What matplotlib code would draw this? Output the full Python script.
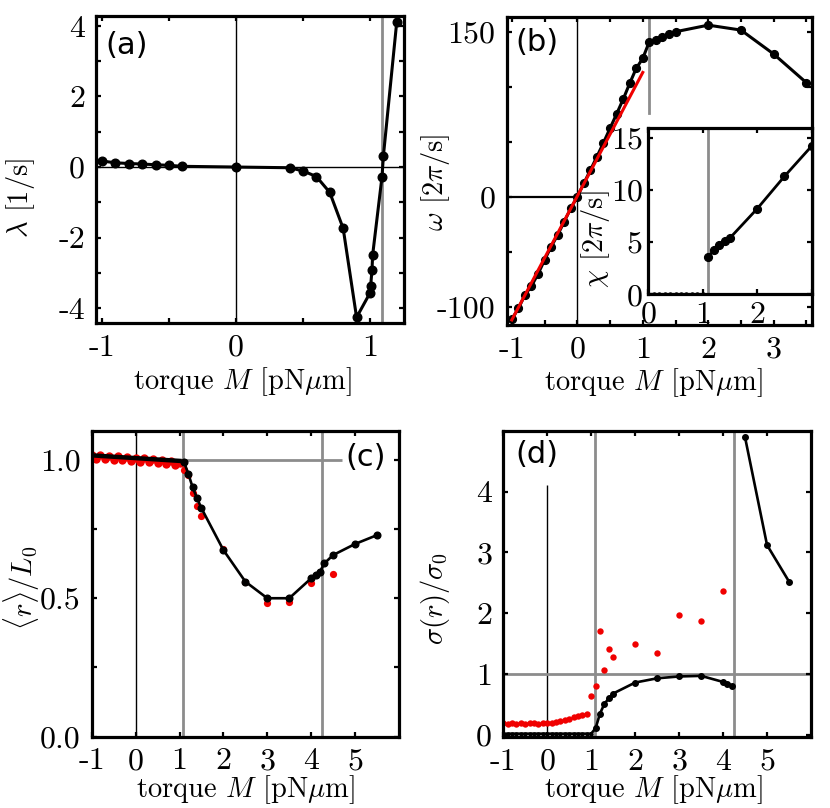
import numpy as np
import matplotlib
matplotlib.use('Agg')
import matplotlib.pyplot as plt

plt.rcParams['font.family'] = 'cmr10'
plt.rcParams['mathtext.fontset'] = 'cm'
plt.rcParams['axes.unicode_minus'] = False

# ---- panel (a): growth rate lambda vs torque
M_a = [-1.0, -0.9, -0.8, -0.7, -0.6, -0.5, -0.4, 0.0, 0.4, 0.5, 0.6, 0.7,
       0.8, 0.9, 1.0, 1.005, 1.015, 1.02, 1.09, 1.1, 1.2]
lam_a = [0.17, 0.12, 0.10, 0.085, 0.065, 0.048, 0.02, 0.0, -0.02, -0.11,
         -0.27, -0.72, -1.74, -4.26, -3.57, -3.37, -2.92, -2.49, -0.27,
         0.31, 4.12]

# ---- panel (b): rotation frequency omega vs torque
M_b = [-1.0, -0.9, -0.8, -0.7, -0.6, -0.5, -0.4, -0.3, -0.2, -0.1, 0.0,
       0.1, 0.2, 0.3, 0.4, 0.5, 0.6, 0.7, 0.8, 0.9, 1.0,
       1.1, 1.2, 1.3, 1.4, 1.5, 2.0, 2.5, 3.0, 3.5]
om_b = [-111.5, -101.5, -89.4, -81.2, -70.3, -57.5, -45.5, -34.8, -22.7,
        -10.6, 0.0, 12.1, 24.2, 36.4, 49.1, 62.2, 75.2, 88.5, 103.0, 116.7,
        125.8, 140.9, 142.5, 144.9, 147.6, 150.0, 156.0, 151.5, 129.7, 103.6]
fit_M = [-1.0, 1.0]
fit_om = [-112.0, 113.0]

# inset: chi vs torque
M_in_flat = [0.0, 0.1, 0.2, 0.3, 0.4, 0.5, 0.6, 0.7, 0.8, 0.9, 1.0]
chi_in_flat = [0.0, 0.0, 0.0, 0.0, 0.0, 0.0, 0.0, 0.0, 0.0, 0.0, 0.0]
M_in = [1.1, 1.2, 1.3, 1.4, 1.5, 2.0, 2.5, 3.0]
chi_in = [3.6, 4.2, 4.7, 5.1, 5.4, 8.2, 11.3, 14.2]

# ---- panel (c): mean end-to-end distance
M_c_flat = [-1.0, -0.9, -0.8, -0.7, -0.6, -0.5, -0.4, -0.3, -0.2, -0.1, 0.0,
            0.1, 0.2, 0.3, 0.4, 0.5, 0.6, 0.7, 0.8, 0.9, 1.0]
r_c_flat = [1.016, 1.015, 1.014, 1.013, 1.012, 1.011, 1.010, 1.009, 1.008,
            1.007, 1.006, 1.005, 1.004, 1.003, 1.002, 1.001, 1.000, 0.999,
            0.998, 0.997, 0.996]
M_c = [1.1, 1.2, 1.3, 1.4, 1.5, 2.0, 2.5, 3.0, 3.5, 4.0, 4.1, 4.2, 4.3,
       4.5, 5.0, 5.5]
r_c = [0.993, 0.95, 0.900, 0.861, 0.825, 0.674, 0.560, 0.50, 0.50, 0.572,
       0.584, 0.596, 0.626, 0.656, 0.696, 0.728]
r_c_red_flat = [1.019, 1.004, 1.017, 1.002, 1.015, 1.000, 1.013, 0.998,
                1.011, 0.996, 1.008, 0.993, 1.006, 0.991, 1.003, 0.988,
                1.000, 0.985, 0.997, 0.982, 0.990]
M_c_red = [1.1, 1.2, 1.3, 1.4, 1.5, 2.0, 2.5, 3.0, 3.5, 4.0, 4.5]
r_c_red = [0.963, 0.945, 0.879, 0.833, 0.797, 0.677, 0.56, 0.484, 0.487,
           0.554, 0.587]

# ---- panel (d): width of distribution
M_d_flat = [-1.0, -0.9, -0.8, -0.7, -0.6, -0.5, -0.4, -0.3, -0.2, -0.1, 0.0,
            0.1, 0.2, 0.3, 0.4, 0.5, 0.6, 0.7, 0.8, 0.9, 1.0]
s_d_flat = [0.02, 0.02, 0.02, 0.02, 0.02, 0.02, 0.02, 0.02, 0.02, 0.02, 0.02,
            0.02, 0.02, 0.02, 0.02, 0.02, 0.02, 0.02, 0.02, 0.02, 0.02]
M_d = [1.1, 1.2, 1.3, 1.4, 1.5, 2.0, 2.5, 3.0, 3.5, 4.0, 4.1, 4.2]
s_d = [0.11, 0.35, 0.51, 0.60, 0.68, 0.86, 0.93, 0.96, 0.97, 0.87, 0.84, 0.81]
M_d_up = [4.5, 5.0, 5.5]
s_d_up = [4.89, 3.12, 2.52]
M_d_red = [-1.0, -0.9, -0.8, -0.7, -0.6, -0.5, -0.4, -0.3, -0.2, -0.1, 0.0,
           0.1, 0.2, 0.3, 0.4, 0.5, 0.6, 0.7, 0.8, 0.9, 1.0,
           1.1, 1.2, 1.3, 1.4, 1.5, 2.0, 2.5, 3.0, 3.5, 4.0]
s_d_red = [0.19, 0.18, 0.19, 0.18, 0.19, 0.18, 0.19, 0.19, 0.18, 0.19, 0.19,
           0.20, 0.21, 0.22, 0.24, 0.26, 0.29, 0.31, 0.33, 0.35, 0.64,
           0.80, 1.70, 1.07, 1.41, 1.28, 1.49, 1.34, 1.97, 1.87, 2.37]

M_crit = 1.08
M_crit2 = 4.25

GRAY = '#8c8c8c'
RED = '#f00000'
TICK_FS = 23
LAB_FS = 20.5
PANEL_FS = 22

fig = plt.figure(figsize=(8.3, 8.08), dpi=100)
W, H = 830.0, 808.0


def make_axes(left, top, right, bottom):
    return fig.add_axes([left / W, 1 - bottom / H, (right - left) / W,
                         (bottom - top) / H])


def style(ax, pad=8):
    for s in ax.spines.values():
        s.set_linewidth(2.3)
    ax.tick_params(direction='in', top=True, right=True, length=3.5,
                   width=1.6, labelsize=TICK_FS, pad=pad)


xlab = r'torque $M$ [pN$\mu$m]'

# ---------------- (a)
axa = make_axes(96, 16, 404, 323)
axa.axhline(0, color='k', lw=1.0, zorder=1)
axa.axvline(0, color='k', lw=1.0, zorder=1)
axa.axvline(1.087, color=GRAY, lw=2.0, zorder=1)
axa.plot(M_a, lam_a, '-o', color='k', lw=2.2, ms=6.2, zorder=3)
axa.set_xlim(-1.045, 1.254)
axa.set_ylim(-4.42, 4.28)
axa.set_xticks([-1, -0.5, 0, 0.5, 1])
axa.set_xticklabels(['-1', '', '0', '', '1'])
axa.set_yticks([-4, -3, -2, -1, 0, 1, 2, 3, 4])
axa.set_yticklabels(['-4', '', '-2', '', '0', '', '2', '', '4'])
style(axa)
axa.set_xlabel(xlab, fontsize=LAB_FS)
axa.set_ylabel(r'$\lambda$ [1/s]', fontsize=LAB_FS)
axa.xaxis.set_label_coords(0.474, -0.137)
axa.yaxis.set_label_coords(-0.19, 0.407)
axa.text(0.03, 0.95, '(a)', transform=axa.transAxes, family='DejaVu Sans',
         fontsize=PANEL_FS, va='top')

# ---------------- (b)
axb = make_axes(506.7, 17, 811.7, 325)
xb0, xb1 = -1.078, 3.58
yb0, yb1 = -116.6, 163.4
axb.axvline(0, color='k', lw=1.0, zorder=1)
axb.axhline(0, xmin=0, xmax=(0 - xb0) / (xb1 - xb0), color='k', lw=1.6,
            zorder=1)
axb.axvline(1.1, ymin=(76 - yb0) / (yb1 - yb0), ymax=1, color=GRAY, lw=2.0,
            zorder=1)
axb.plot(M_b, om_b, '-o', color='k', lw=2.2, ms=5.6, zorder=3)
axb.plot(fit_M, fit_om, '-', color=RED, lw=2.2, zorder=4)
axb.set_xlim(xb0, xb1)
axb.set_ylim(yb0, yb1)
axb.set_xticks([-1, -0.5, 0, 0.5, 1, 1.5, 2, 2.5, 3, 3.5])
axb.set_xticklabels(['-1', '', '0', '', '1', '', '2', '', '3', ''])
axb.set_yticks([-100, -50, 0, 50, 100, 150])
axb.set_yticklabels(['-100', '', '0', '', '', '150'])
style(axb)
axb.set_xlabel(xlab, fontsize=LAB_FS)
axb.set_ylabel(r'$\omega$ [2$\pi$/s]', fontsize=LAB_FS)
axb.xaxis.set_label_coords(0.48, -0.135)
axb.yaxis.set_label_coords(-0.179, 0.464)
axb.text(0.027, 0.965, '(b)', transform=axb.transAxes, family='DejaVu Sans',
         fontsize=PANEL_FS, va='top')

# inset
axi = make_axes(648.3, 128.3, 811.7, 294.3)
axi.set_facecolor('white')
axi.axvline(1.1, color=GRAY, lw=2.0, zorder=1)
axi.plot(M_in_flat, chi_in_flat, '-o', color='k', lw=1.5, ms=2.2, zorder=3)
axi.plot(M_in, chi_in, '-o', color='k', lw=2.0, ms=5.6, zorder=3)
axi.set_xlim(0, 3)
axi.set_ylim(0, 15.9)
axi.set_xticks([0, 1, 2, 3])
axi.set_xticklabels(['0', '1', '2', ''])
axi.set_yticks([0, 5, 10, 15])
axi.set_yticklabels(['0', '5', '10', '15'])
style(axi)
axi.tick_params(axis='y', pad=4)
axi.tick_params(axis='x', pad=5)
axi.set_ylabel(r'$\chi$ [2$\pi$/s]', fontsize=LAB_FS)
axi.yaxis.set_label_coords(-0.225, 0.33)

# ---------------- (c)
axc = make_axes(91.7, 430.7, 399, 736.7)
axc.axvline(0, color='k', lw=1.0, zorder=1)
axc.axvline(M_crit, color=GRAY, lw=2.0, zorder=1)
axc.axvline(M_crit2, color=GRAY, lw=2.0, zorder=1)
axc.hlines(1.0, M_crit, 4.7, color=GRAY, lw=2.0, zorder=1)
axc.plot(M_c_flat, r_c_red_flat, 'o', color=RED, ms=6.0, mec='none', zorder=2)
axc.plot(M_c_red, r_c_red, 'o', color=RED, ms=5.2, mec='none', zorder=2)
axc.plot(M_c_flat + M_c, r_c_flat + r_c, '-', color='k', lw=1.9, zorder=3)
axc.plot(M_c_flat, r_c_flat, '-', color='k', lw=3.2, zorder=3)
axc.plot(M_c, r_c, 'o', color='k', ms=4.8, zorder=3)
axc.set_xlim(-1, 6)
axc.set_ylim(0, 1.105)
axc.set_xticks([-1, 0, 1, 2, 3, 4, 5])
axc.set_xticklabels(['-1', '0', '1', '2', '3', '4', '5'])
axc.set_yticks([0, 0.25, 0.5, 0.75, 1.0])
axc.set_yticklabels(['0.0', '', '0.5', '', '1.0'])
style(axc)
axc.set_xlabel(xlab, fontsize=LAB_FS)
axc.set_ylabel(r'$\langle r\rangle/L_0$', fontsize=LAB_FS)
axc.xaxis.set_label_coords(0.499, -0.118)
axc.yaxis.set_label_coords(-0.163, 0.486)
axc.text(0.824, 0.96, '(c)', transform=axc.transAxes, family='DejaVu Sans',
         fontsize=PANEL_FS, va='top')

# ---------------- (d)
axd = make_axes(503.3, 430.7, 811, 737.3)
yd0, yd1 = -0.04, 5.0
axd.vlines(0, yd0, 4.1, color='k', lw=1.0, zorder=1)
axd.axhline(1.0, color=GRAY, lw=2.0, zorder=1)
axd.axvline(M_crit, color=GRAY, lw=2.0, zorder=1)
axd.axvline(M_crit2, color=GRAY, lw=2.0, zorder=1)
axd.plot(M_d_red, s_d_red, 'o', color=RED, ms=4.6, mec='none', zorder=2)
axd.plot(M_d_flat + M_d, s_d_flat + s_d, '-', color='k', lw=1.9, zorder=3)
axd.plot(M_d_flat, s_d_flat, 'o', color='k', ms=2.2, zorder=3)
axd.plot(M_d, s_d, 'o', color='k', ms=4.0, zorder=3)
axd.plot(M_d_up, s_d_up, '-o', color='k', lw=1.9, ms=4.0, zorder=3)
axd.set_xlim(-1, 6)
axd.set_ylim(yd0, yd1)
axd.set_xticks([-1, 0, 1, 2, 3, 4, 5])
axd.set_xticklabels(['-1', '0', '1', '2', '3', '4', '5'])
axd.set_yticks([0, 1, 2, 3, 4])
axd.set_yticklabels(['0', '1', '2', '3', '4'])
style(axd)
axd.set_xlabel(xlab, fontsize=LAB_FS)
axd.set_ylabel(r'$\sigma(r)/\sigma_0$', fontsize=LAB_FS)
axd.xaxis.set_label_coords(0.487, -0.118)
axd.yaxis.set_label_coords(-0.167, 0.454)
axd.text(0.038, 0.97, '(d)', transform=axd.transAxes, family='DejaVu Sans',
         fontsize=PANEL_FS, va='top')

fig.savefig('out.png', dpi=100)
